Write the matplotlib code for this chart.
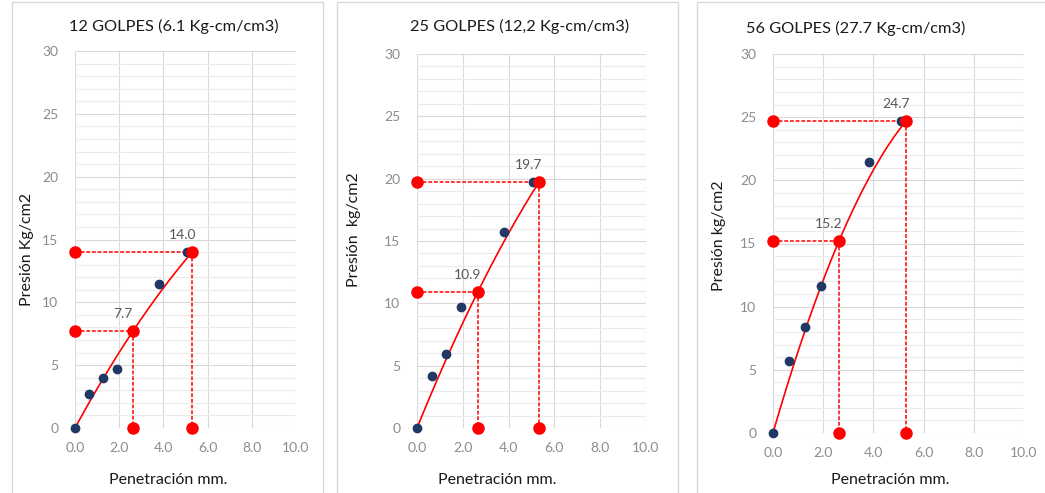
import numpy as np
import matplotlib.pyplot as plt
from matplotlib.patches import Rectangle

plt.rcParams['font.family'] = ['Lato', 'DejaVu Sans']

W, H = 1045, 493

titles = ["12 GOLPES (6.1 Kg-cm/cm3)",
          "25 GOLPES (12,2 Kg-cm/cm3)",
          "56 GOLPES (27.7 Kg-cm/cm3)"]
ylabels = ["Presión Kg/cm2", "Presión  kg/cm2", "Presión kg/cm2"]
xlabel = "Penetración mm."

# lecturas de penetración (mm) y presión (kg/cm2)
penetracion = [0.0, 0.64, 1.27, 1.91, 3.81, 5.08]
presion_12 = [0.0, 2.7, 3.95, 4.7, 11.45, 14.0]
presion_25 = [0.0, 4.15, 5.95, 9.7, 15.7, 19.7]
presion_56 = [0.0, 5.7, 8.4, 11.65, 21.45, 24.7]

# valores corregidos a 0.1" y 0.2"
corr_x = [[2.62, 5.3], [2.65, 5.32], [2.63, 5.3]]
corr_y = [[7.7, 14.0], [10.9, 19.7], [15.2, 24.7]]

# posición de cada gráfico en píxeles: eje x (izq, der), eje y (arriba, abajo)
ax_px = [(75, 296, 51, 428), (417, 646, 54, 428), (773, 1024, 54, 433)]
box_px = [(12, 323), (337, 678), (697, 1060)]
title_px = [(174, 26), (520, 26), (856, 28)]
xlab_px = [168, 497, 890]
ylab_px = [(27, 249), (354, 230), (719, 236)]

series = [presion_12, presion_25, presion_56]

fig = plt.figure(figsize=(W / 100, H / 100), dpi=100)

for i in range(3):
    bx0, bx1 = box_px[i]
    fig.patches.append(Rectangle((bx0 / W, -0.1), (bx1 - bx0) / W, 1.1 - 2 / H,
                                 transform=fig.transFigure, fill=False,
                                 edgecolor='#d9d9d9', lw=1))

    x0, x1, yt, yb = ax_px[i]
    ax = fig.add_axes([x0 / W, 1 - yb / H, (x1 - x0) / W, (yb - yt) / H])
    ax.set_xlim(0, 10)
    ax.set_ylim(0, 30)
    ax.set_xticks(np.arange(0, 10.1, 2))
    ax.set_xticklabels([f"{v:.1f}" for v in np.arange(0, 10.1, 2)])
    ax.set_yticks(np.arange(0, 31, 5))
    ax.set_yticks(np.arange(0, 31, 1), minor=True)
    ax.grid(which='major', color='#d9d9d9', lw=0.8)
    ax.grid(which='minor', axis='y', color='#ebebeb', lw=0.8)
    ax.set_axisbelow(True)
    for s in ax.spines.values():
        s.set_visible(False)
    ax.tick_params(which='both', length=0, labelsize=10, labelcolor='#8c8c8c')
    ax.tick_params(axis='y', pad=12)
    ax.tick_params(axis='x', pad=10)

    # curva corregida (parábola por el origen y los dos puntos corregidos)
    px = [0.0] + corr_x[i]
    py = [0.0] + corr_y[i]
    coef = np.polyfit(px, py, 2)
    xs = np.linspace(0, corr_x[i][1] - 0.15, 60)
    ax.plot(xs, np.polyval(coef, xs), color='#ff0000', lw=1.2, zorder=3)

    ax.plot(penetracion, series[i], 'o', color='#1f3864', ms=6, zorder=4,
            clip_on=False)

    for cx, cy in zip(corr_x[i], corr_y[i]):
        ax.plot([0, cx], [cy, cy], color='#ff0000', lw=1.1, ls=(0, (2.5, 1.2)), zorder=3)
        ax.plot([cx, cx], [cy, 0], color='#ff0000', lw=1.1, ls=(0, (2.5, 1.2)), zorder=3)
        ax.plot([0, cx, cx], [cy, cy, 0], 'o', color='#ff0000', ms=8, zorder=5,
                clip_on=False)
        ax.annotate(f"{cy:.1f}", (cx, cy), xytext=(-10, 11), textcoords='offset pixels',
                    ha='center', va='bottom', fontsize=10, color='#595959')

    fig.text(title_px[i][0] / W, 1 - title_px[i][1] / H, titles[i], ha='center',
             va='center', fontsize=11.8, color='#1a1a1a')
    fig.text(xlab_px[i] / W, 1 - 480 / H, xlabel, ha='center', va='center',
             fontsize=11.5, color='#1a1a1a')
    fig.text(ylab_px[i][0] / W, 1 - ylab_px[i][1] / H, ylabels[i], ha='center',
             va='center', rotation=90, fontsize=11.5, color='#1a1a1a')

fig.savefig('out.png', dpi=100)
